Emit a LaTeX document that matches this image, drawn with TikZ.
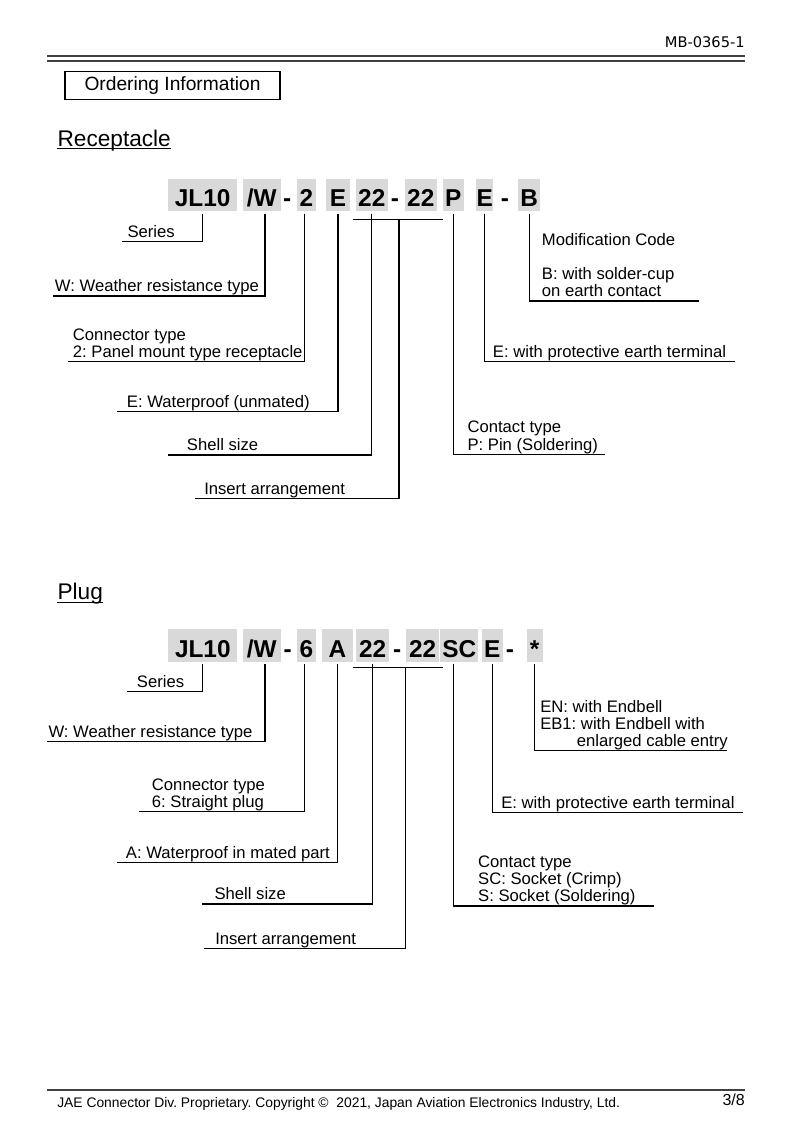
\documentclass[tikz,border=0pt]{standalone}
\usepackage{fontspec}
\setmainfont{Liberation Sans}
\newfontfamily\docnofont{DejaVu Sans}
\definecolor{codegray}{HTML}{D9D9D9}
\definecolor{rulegray}{HTML}{404040}
\frenchspacing

\begin{document}
\begin{tikzpicture}[x=0.7507pt,y=-0.7507pt,
  codetxt/.style={minimum height=24.2pt, inner sep=0pt, text height=17.3pt, text depth=0pt, font=\fontsize{18.3}{20}\selectfont\bfseries},
  codebox/.style={codetxt, fill=codegray, outer sep=2pt},
  lbl/.style={anchor=south west, inner sep=0pt, align=left, yshift=-0.84pt, font=\fontsize{12.5}{12.8}\selectfont, execute at end node=\strut},
  conn/.style={line width=0.9pt},
  heading/.style={anchor=base west, inner sep=0pt, font=\fontsize{17}{19}\selectfont}]
\fill[white] (0,0) rectangle (793,1123);
\useasboundingbox (0,0) rectangle (793,1123);

\node[anchor=base east, inner sep=0pt, font=\docnofont\fontsize{11}{14}\selectfont] (docno) at (745,47) {MB-0365-1};
\draw[rulegray, line width=2.2pt] (47,56) -- (745,56);
\draw[rulegray, line width=1.1pt] (47,61) -- (745,61);
\node[draw, line width=0.8pt, minimum width=161.4pt, minimum height=20.7pt, font=\fontsize{14.4}{16}\selectfont] (title) at (172.5,85.5) {Ordering Information};

\node[heading] (rhead) at (57.3,146) {Receptacle};
\draw[line width=0.8pt] ([yshift=-2pt]rhead.base west) -- ([yshift=-2pt]rhead.base east);

\node[codebox, minimum width=51.6pt] (rjl) at (202.7,194.9) {JL10};
\node[codebox, minimum width=28.5pt] (rw) at (261.7,194.9) {/W};
\node[codetxt] (rd1) at (287.3,194.9) {-};
\node[codebox, minimum width=14.5pt] (rtype) at (306.3,194.9) {2};
\node[codebox, minimum width=18pt] (rwp) at (338,194.9) {E};
\node[codebox, minimum width=23.8pt] (rsize) at (371.8,194.9) {22};
\node[codetxt] (rd2) at (395,194.9) {-};
\node[codebox, minimum width=23.8pt] (rins) at (420.8,194.9) {22};
\node[codebox, minimum width=16pt] (rcont) at (453.3,194.9) {P};
\node[codebox, minimum width=13pt] (rearth) at (484.7,194.9) {E};
\node[codetxt] (rd3) at (505,194.9) {-};
\node[codebox, minimum width=16.3pt] (rmod) at (529.2,194.9) {B};

\node[lbl] (rseries) at (127.3,241.7) {Series};
\node[lbl] (rweather) at (54.7,296) {W: Weather resistance type};
\node[lbl] (rconn) at (72.7,361.7) {Connector type\\2: Panel mount type receptacle};
\node[lbl] (rwater) at (126.7,411.7) {E: Waterproof (unmated)};
\node[lbl] (rshell) at (186.7,455) {Shell size};
\node[lbl] (rinsert) at (204,498.3) {Insert arrangement};
\node[lbl] (rcontact) at (467.3,454.3) {Contact type\\P: Pin (Soldering)};
\node[lbl] (rpe) at (492.7,361.7) {E: with protective earth terminal};
\node[lbl] (rmodif) at (541.7,301) {Modification Code\\[12.8pt]B: with solder-cup\\on earth contact};

\coordinate (rseries-e) at (121.7,241.7);
\coordinate (rweather-e) at (53.3,296);
\coordinate (rconn-e) at (68.3,361.7);
\coordinate (rwater-e) at (116.7,411.7);
\coordinate (rshell-e) at (168.3,455);
\coordinate (rinsert-e) at (195,498.3);
\coordinate (rcontact-e) at (605,454.3);
\coordinate (rpe-e) at (735,361.7);
\coordinate (rmodif-e) at (699.3,301);
\coordinate (rbarl) at (352.7,219.3);
\coordinate (rbarr) at (442.7,219.3);
\coordinate (rbarm) at (399,219.3);

\draw[conn] (rjl.south) |- (rseries-e);
\draw[conn] ([xshift=2.5pt]rw.south) |- (rweather-e);
\draw[conn] ([xshift=-1.5pt]rtype.south) |- (rconn-e);
\draw[conn] (rwp.south) |- (rwater-e);
\draw[conn] (rsize.south) |- (rshell-e);
\draw[conn] (rbarl) -- (rbarr);
\draw[conn] (rbarm) |- (rinsert-e);
\draw[conn] (rcont.south) |- (rcontact-e);
\draw[conn] (rearth.south) |- (rpe-e);
\draw[conn] (rmod.south) |- (rmodif-e);

\node[heading] (phead) at (57.3,599.5) {Plug};
\draw[line width=0.8pt] ([yshift=-2pt]phead.base west) -- ([yshift=-2pt]phead.base east);

\node[codebox, minimum width=51.8pt] (pjl) at (202.8,645.6) {JL10};
\node[codebox, minimum width=28.5pt] (pw) at (261.7,645.6) {/W};
\node[codetxt] (pd1) at (287.7,645.6) {-};
\node[codebox, minimum width=14.5pt] (ptype) at (306.3,645.6) {6};
\node[codebox, minimum width=23.7pt] (pwp) at (337.5,645.6) {A};
\node[codebox, minimum width=25pt] (psize) at (372.7,645.6) {22};
\node[codetxt] (pd2) at (397.3,645.6) {-};
\node[codebox, minimum width=25pt] (pins) at (422.7,645.6) {22};
\node[codebox, minimum width=28.8pt] (pcont) at (459.2,645.6) {SC};
\node[codebox, minimum width=15.8pt] (pearth) at (492.2,645.6) {E};
\node[codetxt] (pd3) at (510,645.6) {-};
\node[codebox, minimum width=12pt] (pend) at (534.7,645.6) {*};

\node[lbl] (pseries) at (136.7,691.7) {Series};
\node[lbl] (pweather) at (48.3,741.7) {W: Weather resistance type};
\node[lbl] (pconn) at (151.7,811.7) {Connector type\\6: Straight plug};
\node[lbl] (pwater) at (125.7,862.3) {A: Waterproof in mated part};
\node[lbl] (pshell) at (214.3,904) {Shell size};
\node[lbl] (pinsert) at (215,948.3) {Insert arrangement};
\node[lbl] (pcontact) at (477.9,906) {Contact type\\SC: Socket (Crimp)\\S: Socket (Soldering)};
\node[lbl] (ppe) at (501,812.3) {E: with protective earth terminal};
\node[lbl] (pendbell) at (540,750.7) {EN: with Endbell\\EB1: with Endbell with\\\hspace*{27.5pt}enlarged cable entry};

\coordinate (pseries-e) at (126.7,691.7);
\coordinate (pweather-e) at (47.3,741.7);
\coordinate (pconn-e) at (139.3,811.7);
\coordinate (pwater-e) at (117,862.3);
\coordinate (pshell-e) at (201.8,904);
\coordinate (pinsert-e) at (203.6,948.3);
\coordinate (pcontact-e) at (653.6,906);
\coordinate (ppe-e) at (743.3,812.3);
\coordinate (pendbell-e) at (727.3,750.7);
\coordinate (pbarl) at (352.7,667.7);
\coordinate (pbarr) at (442.7,667.7);
\coordinate (pbarm) at (405.7,667.7);

\draw[conn] (pjl.south) |- (pseries-e);
\draw[conn] ([xshift=2.5pt]pw.south) |- (pweather-e);
\draw[conn] ([xshift=-1.5pt]ptype.south) |- (pconn-e);
\draw[conn] (pwp.south) |- (pwater-e);
\draw[conn] (psize.south) |- (pshell-e);
\draw[conn] (pbarl) -- (pbarr);
\draw[conn] (pbarm) |- (pinsert-e);
\draw[conn] ([xshift=-4.4pt]pcont.south) |- (pcontact-e);
\draw[conn] (pearth.south) |- (ppe-e);
\draw[conn] (pend.south) |- (pendbell-e);

\draw[rulegray, line width=2.2pt] (47,1090) -- (745,1090);
\node[anchor=base west, inner sep=0pt, font=\fontsize{10.4}{12}\selectfont] (foot) at (57,1107) {JAE Connector Div. Proprietary. Copyright \textcopyright\ \ 2021, Japan Aviation Electronics Industry, Ltd.};
\node[anchor=base east, inner sep=0pt, font=\fontsize{12}{14}\selectfont] (page) at (745,1105) {3/8};
\end{tikzpicture}
\end{document}
